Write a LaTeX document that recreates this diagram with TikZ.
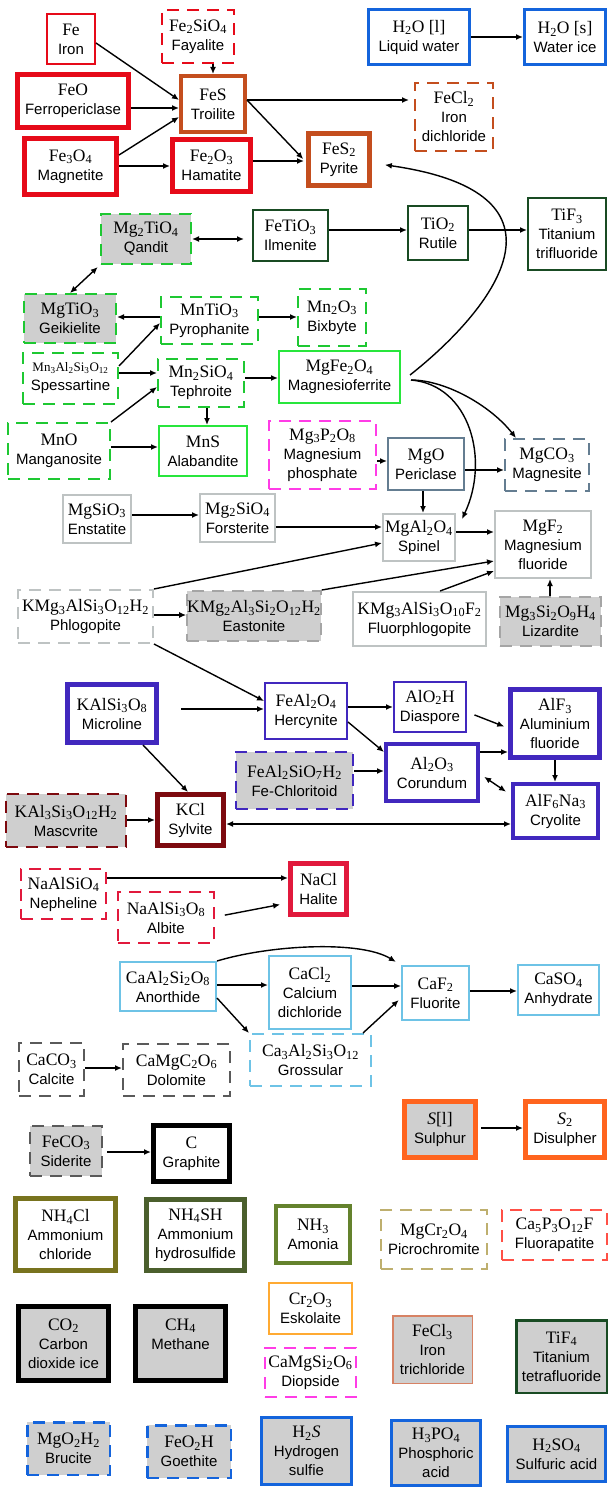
\documentclass[tikz,border=0pt]{standalone}
\usepackage{fontspec}
\setmainfont{Liberation Serif}
\setsansfont{Liberation Sans}
\usetikzlibrary{arrows.meta}
\definecolor{cred}{RGB}{230,10,25}
\definecolor{cbrown}{RGB}{196,78,30}
\definecolor{cblue}{RGB}{20,100,220}
\definecolor{ctig}{RGB}{25,75,35}
\definecolor{cmng}{RGB}{30,200,50}
\definecolor{cgrn}{RGB}{40,230,60}
\definecolor{cmag}{RGB}{255,60,230}
\definecolor{cslate}{RGB}{100,125,145}
\definecolor{clgray}{RGB}{190,195,195}
\definecolor{cmgray}{RGB}{165,165,165}
\definecolor{cfill}{RGB}{207,207,207}
\definecolor{cpur}{RGB}{65,40,190}
\definecolor{cmaroon}{RGB}{125,10,15}
\definecolor{ccrim}{RGB}{225,25,60}
\definecolor{csky}{RGB}{110,195,230}
\definecolor{cdk}{RGB}{90,90,90}
\definecolor{corg}{RGB}{255,100,30}
\definecolor{colive}{RGB}{120,115,30}
\definecolor{cdolive}{RGB}{75,95,45}
\definecolor{cogreen}{RGB}{100,130,45}
\definecolor{ckhaki}{RGB}{190,175,110}
\definecolor{ctomato}{RGB}{255,80,70}
\definecolor{clorange}{RGB}{255,170,50}
\definecolor{csalmon}{RGB}{215,130,100}
\newcommand\frm[1]{{\rmfamily\fontsize{17.5}{19}\selectfont #1}}
\newcommand\sbs[1]{\textsubscript{#1}}
\newcommand\bx[9]{%
  \pgfmathsetmacro\bxcx{(#4+#6)/2}%
  \pgfmathsetmacro\bxcy{(#5+#7)/2}%
  \pgfmathsetmacro\bxw{#6-#4-#3}%
  \pgfmathsetmacro\bxh{#7-#5-#3}%
  \node[box,draw=#2,line width=#3pt,minimum width=\bxw pt,minimum height=\bxh pt] (#1) at (\bxcx,\bxcy) {\frm{#8}\\#9};%
}
\tikzset{
  box/.style={fill=white,text=black,align=center,inner sep=0pt,font=\sffamily\fontsize{15}{19}\selectfont},
  dsh/.style={dash pattern=on 12pt off 8pt},
  gf/.style={fill=cfill},
  arr/.style={-{Latex[length=7pt,width=6pt]},line width=1.4pt},
  darr/.style={{Latex[length=7pt,width=6pt]}-{Latex[length=7pt,width=6pt]},line width=1.4pt},
}
\begin{document}
\begin{tikzpicture}[x=1pt,y=-1pt]
\useasboundingbox (0,0) rectangle (609,1488);
% Fe
\bx{Fe}{cred}{2}{46}{13}{96}{65}{Fe}{Iron}
\bx{Fay}{cred,dsh}{2}{161}{9}{235}{64}{Fe\sbs{2}SiO\sbs{4}}{Fayalite}
\bx{FeO}{cred}{5}{15}{72}{131}{130}{FeO}{Ferropericlase}
\bx{FeS}{cbrown}{4}{179}{74}{247}{134}{FeS}{Troilite}
\bx{Fe3O4}{cred}{5}{22}{136}{119}{197}{Fe\sbs{3}O\sbs{4}}{Magnetite}
\bx{Fe2O3}{cred}{5}{170}{137}{253}{194}{Fe\sbs{2}O\sbs{3}}{Hamatite}
\bx{H2Ol}{cblue}{3}{367}{8}{471}{66}{H\sbs{2}O [l]}{Liquid water}
\bx{H2Os}{cblue}{3}{523}{8}{607}{66}{H\sbs{2}O [s]}{Water ice}
\bx{FeCl2}{cbrown,dsh}{2}{414}{82}{494}{152}{FeCl\sbs{2}}{Iron\\dichloride}
\bx{FeS2}{cbrown}{5}{306}{131}{372}{188}{FeS\sbs{2}}{Pyrite}
% Ti
\bx{Qandit}{cmng,dsh,gf}{2}{100}{213}{192}{265}{Mg\sbs{2}TiO\sbs{4}}{Qandit}
\bx{Ilmenite}{ctig}{2}{252}{209}{329}{262}{FeTiO\sbs{3}}{Ilmenite}
\bx{TiO2}{ctig}{2}{407}{205}{469}{261}{TiO\sbs{2}}{Rutile}
\bx{TiF3}{ctig}{2}{527}{197}{607}{271}{TiF\sbs{3}}{Titanium\\trifluoride}
% Mn
\bx{MgTiO3}{cmng,dsh,gf}{2}{23}{293}{117}{344}{MgTiO\sbs{3}}{Geikielite}
\bx{MnTiO3}{cmng,dsh}{2}{160}{296}{259}{345}{MnTiO\sbs{3}}{Pyrophanite}
\bx{Mn2O3}{cmng,dsh}{2}{297}{288}{367}{347}{Mn\sbs{2}O\sbs{3}}{Bixbyte}
\bx{Spess}{cmng,dsh}{2}{22}{352}{119}{405}{\fontsize{13}{19}\selectfont Mn\sbs{3}Al\sbs{2}Si\sbs{3}O\sbs{12}}{Spessartine}
\bx{Teph}{cmng,dsh}{2}{157}{358}{245}{408}{Mn\sbs{2}SiO\sbs{4}}{Tephroite}
\bx{MgFe2O4}{cgrn}{2}{278}{350}{401}{404}{MgFe\sbs{2}O\sbs{4}}{Magnesioferrite}
\bx{MnO}{cmng,dsh}{2}{7}{422}{111}{480}{MnO}{Manganosite}
\bx{MnS}{cgrn}{2}{158}{425}{248}{477}{MnS}{Alabandite}
\bx{MgP}{cmag,dsh}{2}{268}{420}{377}{490}{Mg\sbs{3}P\sbs{2}O\sbs{8}}{Magnesium\\phosphate}
\bx{MgO}{cslate}{2}{387}{437}{465}{491}{MgO}{Periclase}
\bx{MgCO3}{cslate,dsh}{2}{504}{438}{590}{492}{MgCO\sbs{3}}{Magnesite}
% Mg
\bx{Enst}{clgray}{2}{62}{494}{132}{544}{MgSiO\sbs{3}}{Enstatite}
\bx{Fors}{clgray}{2}{199}{493}{276}{543}{Mg\sbs{2}SiO\sbs{4}}{Forsterite}
\bx{Spinel}{clgray}{2}{382}{513}{456}{562}{MgAl\sbs{2}O\sbs{4}}{Spinel}
\bx{MgF2}{clgray}{2}{494}{510}{592}{579}{MgF\sbs{2}}{Magnesium\\fluoride}
\bx{Phlog}{clgray,dsh}{2}{17}{589}{154}{644}{KMg\sbs{3}AlSi\sbs{3}O\sbs{12}H\sbs{2}}{Phlogopite}
\bx{Easton}{cmgray,dsh,gf}{2}{187}{590}{321}{642}{KMg\sbs{2}Al\sbs{3}Si\sbs{2}O\sbs{12}H\sbs{2}}{Eastonite}
\bx{Fluorph}{clgray}{2}{352}{591}{487}{647}{KMg\sbs{3}AlSi\sbs{3}O\sbs{10}F\sbs{2}}{Fluorphlogopite}
\bx{Lizard}{cmgray,dsh,gf}{2}{499}{596}{602}{647}{Mg\sbs{3}Si\sbs{2}O\sbs{9}H\sbs{4}}{Lizardite}
% Al, K
\bx{Micro}{cpur}{5}{65}{682}{159}{745}{KAlSi\sbs{3}O\sbs{8}}{Microline}
\bx{Herc}{cpur}{2}{264}{682}{348}{740}{FeAl\sbs{2}O\sbs{4}}{Hercynite}
\bx{Diasp}{cpur}{2}{393}{681}{467}{733}{AlO\sbs{2}H}{Diaspore}
\bx{AlF3}{cpur}{5}{508}{687}{602}{760}{AlF\sbs{3}}{Aluminium\\fluoride}
\bx{FeChl}{cpur,dsh,gf}{2}{235}{751}{354}{810}{FeAl\sbs{2}SiO\sbs{7}H\sbs{2}}{Fe-Chloritoid}
\bx{Al2O3}{cpur}{4}{384}{742}{480}{803}{Al\sbs{2}O\sbs{3}}{Corundum}
\bx{Cryol}{cpur}{4}{511}{782}{600}{840}{AlF\sbs{6}Na\sbs{3}}{Cryolite}
\bx{Masc}{cmaroon,dsh,gf}{2}{5}{793}{127}{848}{KAl\sbs{3}Si\sbs{3}O\sbs{12}H\sbs{2}}{Mascvrite}
\bx{KCl}{cmaroon}{5}{155}{792}{226}{848}{KCl}{Sylvite}
% Na
\bx{Neph}{ccrim,dsh}{2}{20}{868}{107}{920}{NaAlSiO\sbs{4}}{Nepheline}
\bx{Albite}{ccrim,dsh}{2}{117}{891}{215}{944}{NaAlSi\sbs{3}O\sbs{8}}{Albite}
\bx{NaCl}{ccrim}{5}{288}{861}{349}{917}{NaCl}{Halite}
% Ca
\bx{Anorth}{csky}{2}{119}{961}{217}{1012}{CaAl\sbs{2}Si\sbs{2}O\sbs{8}}{Anorthide}
\bx{CaCl2}{csky}{2}{268}{955}{352}{1030}{CaCl\sbs{2}}{Calcium\\dichloride}
\bx{CaF2}{csky}{2}{401}{965}{470}{1021}{CaF\sbs{2}}{Fluorite}
\bx{CaSO4}{csky}{2}{517}{964}{600}{1016}{CaSO\sbs{4}}{Anhydrate}
\bx{Gross}{csky,dsh}{2}{249}{1033}{372}{1087}{Ca\sbs{3}Al\sbs{2}Si\sbs{3}O\sbs{12}}{Grossular}
\bx{Calcite}{cdk,dsh}{2}{18}{1042}{85}{1097}{CaCO\sbs{3}}{Calcite}
\bx{Dolo}{cdk,dsh}{2}{122}{1043}{231}{1097}{CaMgC\sbs{2}O\sbs{6}}{Dolomite}
\bx{Sider}{cdk,dsh,gf}{2}{29}{1125}{103}{1177}{FeCO\sbs{3}}{Siderite}
\bx{Graph}{black}{5}{151}{1123}{232}{1184}{C}{Graphite}
\bx{Sulph}{corg,gf}{5}{402}{1099}{478}{1160}{\textit{S}[l]}{Sulphur}
\bx{Disul}{corg}{5}{523}{1099}{607}{1160}{\textit{S}\sbs{2}}{Disulpher}
% misc
\bx{NH4Cl}{colive}{5}{13}{1196}{118}{1273}{NH\sbs{4}Cl}{Ammonium\\chloride}
\bx{NH4SH}{cdolive}{5}{144}{1197}{247}{1273}{NH\sbs{4}SH}{Ammonium\\hydrosulfide}
\bx{NH3}{cogreen}{4}{274}{1204}{352}{1265}{NH\sbs{3}}{Amonia}
\bx{MgCr}{ckhaki,dsh}{2}{380}{1209}{488}{1270}{MgCr\sbs{2}O\sbs{4}}{Picrochromite}
\bx{Fluorap}{ctomato,dsh}{2}{501}{1209}{608}{1261}{Ca\sbs{5}P\sbs{3}O\sbs{12}F}{Fluorapatite}
\bx{CO2}{black,gf}{5}{16}{1304}{111}{1383}{CO\sbs{2}}{Carbon\\dioxide ice}
\bx{CH4}{black,gf}{5}{133}{1304}{228}{1383}{CH\sbs{4}}{Methane\\\mbox{}}
\bx{Cr2O3}{clorange}{2}{268}{1282}{353}{1335}{Cr\sbs{2}O\sbs{3}}{Eskolaite}
\bx{Diops}{cmag,dsh}{2}{264}{1347}{357}{1398}{CaMgSi\sbs{2}O\sbs{6}}{Diopside}
\bx{FeCl3}{csalmon,gf}{1.5}{392}{1315}{473}{1384}{FeCl\sbs{3}}{Iron\\trichloride}
\bx{TiF4}{ctig,gf}{2.5}{515}{1319}{608}{1394}{TiF\sbs{4}}{Titanium\\tetrafluoride}
\bx{Brucite}{cblue,dsh,gf}{2.5}{26}{1421}{111}{1476}{MgO\sbs{2}H\sbs{2}}{Brucite}
\bx{Goeth}{cblue,dsh,gf}{2.5}{146}{1424}{232}{1479}{FeO\sbs{2}H}{Goethite}
\bx{H2S}{cblue,gf}{3}{260}{1416}{353}{1486}{H\sbs{2}\textit{S}}{Hydrogen\\sulfie}
\bx{H3PO4}{cblue,gf}{3}{390}{1419}{482}{1487}{H\sbs{3}PO\sbs{4}}{Phosphoric\\acid}
\bx{H2SO4}{cblue,gf}{3}{506}{1425}{607}{1483}{H\sbs{2}SO\sbs{4}}{Sulfuric acid}
% ---- edges: Fe
\draw[arr] (Fe.east |- 0,43) -- (FeS.west |- 0,100);
\draw[arr] (FeS.north |- Fay.south) -- (FeS.north);
\draw[arr] (FeO.east |- 0,108) -- (FeS.west |- 0,108);
\draw[arr] (Fe3O4.east |- 0,155) -- (FeS.west |- 0,117);
\draw[arr] (Fe3O4.east |- 0,166) -- (Fe2O3.west |- 0,166);
\draw[arr,shorten >=5pt] (FeS.east |- 0,100) -- (FeCl2.west |- 0,100);
\draw[arr,shorten >=4pt] (FeS.east |- 0,100) -- (FeS2.west |- 0,162);
\draw[arr,shorten >=2pt] (Fe2O3.east |- 0,161) -- (FeS2.west |- 0,161);
\draw[arr] (H2Ol.east |- 0,37) -- (H2Os.west |- 0,37);
\draw[arr,shorten >=13pt] ([shift={(9pt,2pt)}]MgFe2O4.east) .. controls (480,320) and (595,195) .. (FeS2.east |- 0,163);
% Ti
\draw[darr,shorten >=8pt] (Qandit.east |- 0,239) -- (Ilmenite.west |- 0,239);
\draw[arr] (Ilmenite.east |- 0,230) -- (TiO2.west |- 0,230);
\draw[arr] (TiO2.east |- 0,230) -- (TiF3.west |- 0,230);
\draw[darr,shorten <=3pt] (Qandit.south west) -- (MgTiO3.north);
% Mn
\draw[arr] (MnTiO3.west |- 0,317) -- (MgTiO3.east |- 0,317);
\draw[arr] (MnTiO3.east |- 0,317) -- (Mn2O3.west |- 0,317);
\draw[arr] (Spess.east |- 0,366) -- (MnTiO3.west |- 0,323);
\draw[arr] (Spess.east |- 0,373) -- (Teph.west |- 0,373);
\draw[arr] (Teph.east |- 0,378) -- (MgFe2O4.west |- 0,378);
\draw[arr] (MnO.north east) -- (Teph.west |- 0,387);
\draw[arr] (Teph.south -| 207,0) -- (MnS.north -| 207,0);
\draw[arr] (MnO.east |- 0,447) -- (MnS.west |- 0,447);
\draw[arr] ([shift={(10pt,-3pt)}]MgFe2O4.east) .. controls (445,380) and (490,405) .. (MgCO3.north -| 516,0);
\draw[arr] ([shift={(10pt,-3pt)}]MgFe2O4.east) .. controls (470,385) and (490,460) .. ([shift={(6pt,-6pt)}]Spinel.north east);
\draw[arr] (MgP.east |- 0,461) -- (MgO.west |- 0,461);
\draw[arr] (MgO.east |- 0,470) -- (MgCO3.west |- 0,470);
\draw[arr] (MgO.south -| 423,0) -- (Spinel.north -| 423,0);
% Mg
\draw[arr] (Enst.east |- 0,515) -- (Fors.west |- 0,515);
\draw[arr] (Fors.east |- 0,527) -- (Spinel.west |- 0,527);
\draw[arr] (Phlog.north east) -- (Spinel.west |- 0,543);
\draw[arr] (Phlog.east |- 0,615) -- (Easton.west |- 0,615);
\draw[arr] (Easton.north east) -- (MgF2.west |- 0,561);
\draw[arr] (Fluorph.north -| 440,0) -- (MgF2.west |- 0,571);
\draw[arr] (Lizard.north -| 550,0) -- (MgF2.south -| 550,0);
\draw[arr] (Spinel.east |- 0,532) -- (MgF2.west |- 0,532);
\draw[arr] (Phlog.south east) -- (Herc.west |- 0,701);
% Al, K
\draw[arr,shorten <=22pt] (Micro.east |- 0,709) -- (Herc.west |- 0,709);
\draw[arr] (Micro.south -| 143,0) -- (KCl.north -| 188,0);
\draw[arr] (Herc.east |- 0,707) -- (Diasp.west |- 0,707);
\draw[arr] (Herc.east |- 0,722) -- (Al2O3.west |- 0,752);
\draw[arr,shorten <=8pt,shorten >=4pt] (Diasp.east |- 0,712) -- (AlF3.west |- 0,728);
\draw[arr] (Al2O3.east |- 0,752) -- (AlF3.west |- 0,752);
\draw[arr] (AlF3.south -| 555,0) -- (Cryol.north -| 555,0);
\draw[darr,shorten <=5pt,shorten >=6pt] (Al2O3.east |- 0,774) -- (Cryol.west |- 0,795);
\draw[arr] (FeChl.east |- 0,771) -- (Al2O3.west |- 0,771);
\draw[arr] (Masc.east |- 0,820) -- (KCl.west |- 0,820);
\draw[darr] (KCl.east |- 0,824) -- (Cryol.west |- 0,824);
% Na
\draw[arr] (Neph.east |- 0,878) -- (NaCl.west |- 0,878);
\draw[arr,shorten <=10pt,shorten >=8pt] (Albite.east |- 0,917) -- (NaCl.west |- 0,903);
% Ca
\draw[arr] (Anorth.east |- 0,985) -- (CaCl2.west |- 0,985);
\draw[arr,shorten >=6pt] (Anorth.north east) .. controls (270,945) and (360,940) .. (CaF2.north west);
\draw[arr] (Anorth.east |- 0,998) -- (Gross.north west);
\draw[arr] (CaCl2.east |- 0,986) -- (CaF2.west |- 0,986);
\draw[arr,shorten >=3pt] (Gross.north -| 363,0) -- (CaF2.west |- 0,998);
\draw[arr] (CaF2.east |- 0,991) -- (CaSO4.west |- 0,991);
\draw[arr] (Calcite.east |- 0,1068) -- (Dolo.west |- 0,1068);
\draw[arr,shorten <=4pt] (Sider.east |- 0,1152) -- (Graph.west |- 0,1152);
\draw[arr,shorten <=3pt] (Sulph.east |- 0,1128) -- (Disul.west |- 0,1128);
\end{tikzpicture}
\end{document}
